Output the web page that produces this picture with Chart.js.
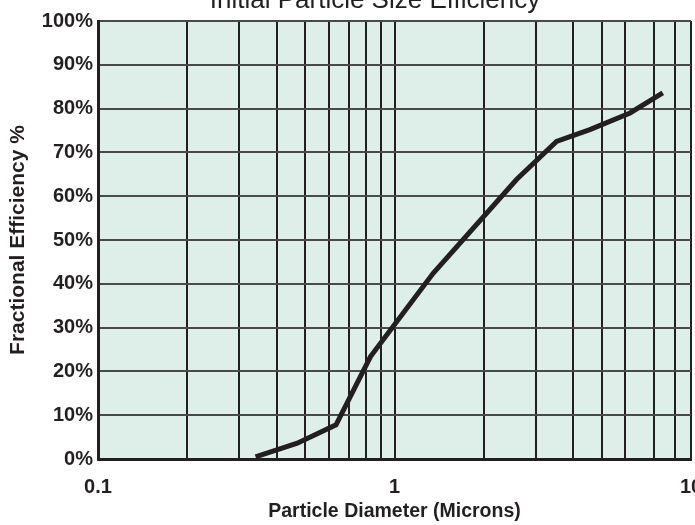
<!DOCTYPE html>
<html>
<head>
<meta charset="utf-8">
<script src="https://cdn.jsdelivr.net/npm/chart.js@4.4.1/dist/chart.umd.min.js"></script>
<style>
  html, body { margin: 0; padding: 0; background: #fff; }
  #wrap { position: relative; width: 695px; height: 525px; }
</style>
</head>
<body>
<div id="wrap"><canvas id="efficiency" width="695" height="525"></canvas></div>
<script>
const chartTitle = 'Initial Particle Size Efficiency'
const diameters = [0.34, 0.47, 0.635, 0.83, 1.35, 2.58, 3.52, 4.56, 6.23, 8.03]
const efficiency = [0.5, 3.6, 7.8, 23.4, 42.4, 63.8, 72.5, 75.2, 79.0, 83.6]
const gridValues = [0.1, 0.2, 0.3, 0.4, 0.5, 0.6, 0.7, 0.8, 0.9, 1, 2, 3, 4, 5, 6, 7.5, 8.8, 10]
const xTickLabels = [0.1, 1, 10]

const ink = '#231f20'
const font = '"Liberation Sans", Arial, Helvetica, sans-serif'

const plotBackground = {
    id: 'plotBackground',
    beforeDraw(chart) {
        const { ctx, chartArea: a } = chart
        ctx.save()
        ctx.fillStyle = '#deefe9'
        ctx.fillRect(a.left, a.top, a.right - a.left, a.bottom - a.top)
        ctx.restore()
    },
}

// the title sits mostly above the top edge, as in the scan
const clippedTitle = {
    id: 'clippedTitle',
    afterDraw(chart) {
        const ctx = chart.ctx
        ctx.save()
        ctx.font = 'normal 26px ' + font
        ctx.fillStyle = ink
        ctx.textAlign = 'center'
        ctx.textBaseline = 'alphabetic'
        ctx.fillText(chartTitle, 375, 8)
        ctx.restore()
    },
}

const data = {
    datasets: [
        {
            label: 'Fractional Efficiency',
            data: diameters.map((d, i) => ({ x: d, y: efficiency[i] })),
            borderColor: ink,
            borderWidth: 5,
            pointRadius: 0,
            tension: 0,
            fill: false,
        },
    ],
}

const options = {
    responsive: false,
    animation: false,
    devicePixelRatio: 1,
    layout: { padding: { top: 21, right: 4, bottom: 0, left: 0 } },
    plugins: {
        legend: { display: false },
        tooltip: { enabled: false },
    },
    scales: {
        x: {
            type: 'logarithmic',
            min: 0.1,
            max: 10,
            afterBuildTicks: (scale) => {
                scale.ticks = gridValues.map((v) => ({ value: v }))
            },
            afterFit: (scale) => {
                scale.height = 66
                scale.paddingLeft = 0
                scale.paddingRight = 0
            },
            grid: { color: ink, lineWidth: 2, drawTicks: false },
            border: { color: ink, width: 3 },
            ticks: {
                autoSkip: false,
                maxRotation: 0,
                padding: 16,
                color: ink,
                font: { family: font, size: 20, weight: 'bold' },
                callback: (v) => (xTickLabels.includes(v) ? String(v) : ''),
            },
            title: {
                display: true,
                text: 'Particle Diameter (Microns)',
                color: ink,
                padding: { top: 0, bottom: 2 },
                font: { family: font, size: 19.5, weight: 'bold' },
            },
        },
        y: {
            min: 0,
            max: 100,
            afterFit: (scale) => {
                scale.width = 98
                scale.paddingTop = 0
                scale.paddingBottom = 0
            },
            grid: { color: '#4a4a4a', lineWidth: 2, drawTicks: false },
            border: { color: ink, width: 3 },
            ticks: {
                stepSize: 10,
                padding: 5,
                color: ink,
                font: { family: font, size: 20, weight: 'bold' },
                callback: (v) => v + '%',
            },
            title: {
                display: true,
                text: 'Fractional Efficiency %',
                color: ink,
                padding: { top: 6, bottom: 0 },
                font: { family: font, size: 21, weight: 'bold' },
            },
        },
    },
}

const chart = new Chart(document.getElementById('efficiency'), {
    type: 'line',
    data: data,
    options: options,
    plugins: [plotBackground, clippedTitle],
})
</script>
</body>
</html>
